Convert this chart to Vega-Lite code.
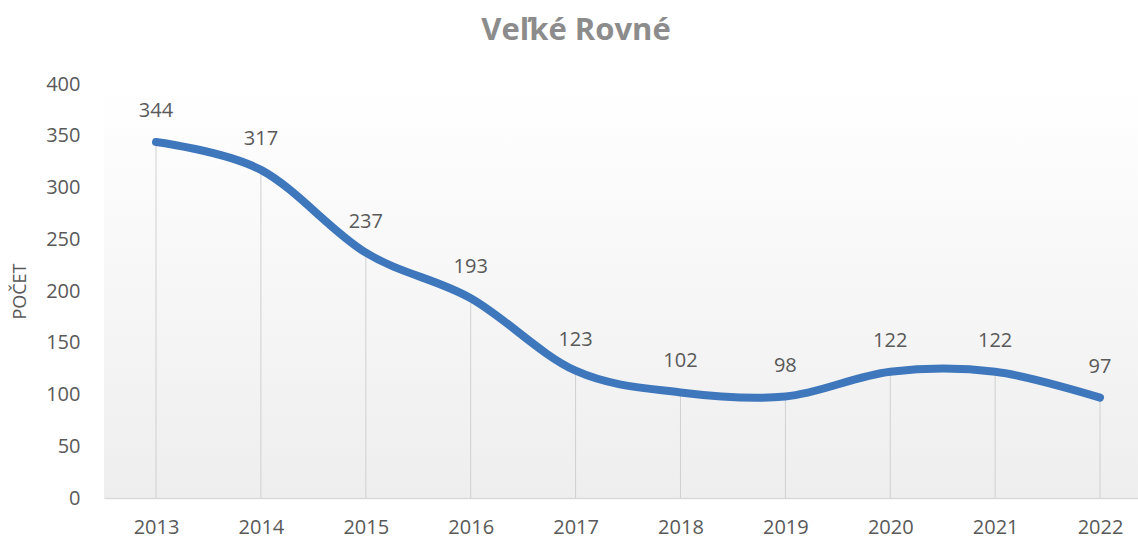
{
  "$schema": "https://vega.github.io/schema/vega-lite/v6.json",
  "width": 1034,
  "height": 414,
  "autosize": {"type": "none"},
  "padding": {"left": 104, "top": 84, "right": 0, "bottom": 40},
  "background": "#ffffff",
  "title": {
    "text": "Veľké Rovné",
    "font": "Open Sans",
    "fontSize": 31,
    "fontWeight": "bold",
    "color": "#8c8c8c",
    "anchor": "middle",
    "dx": -45,
    "offset": 27
  },
  "config": {
    "view": {
      "stroke": null,
      "fill": {
        "gradient": "linear",
        "x1": 0, "y1": 0, "x2": 0, "y2": 1,
        "stops": [
          {"offset": 0, "color": "#ffffff"},
          {"offset": 1, "color": "#eeeeee"}
        ]
      }
    }
  },
  "data": {
    "values": [
      {"year": 2013, "count": 344},
      {"year": 2014, "count": 317},
      {"year": 2015, "count": 237},
      {"year": 2016, "count": 193},
      {"year": 2017, "count": 123},
      {"year": 2018, "count": 102},
      {"year": 2019, "count": 98},
      {"year": 2020, "count": 122},
      {"year": 2021, "count": 122},
      {"year": 2022, "count": 97}
    ]
  },
  "encoding": {
    "x": {
      "field": "year",
      "type": "quantitative",
      "scale": {"domain": [2012.504, 2022.362], "nice": false, "zero": false},
      "axis": {
        "title": null,
        "values": [2013, 2014, 2015, 2016, 2017, 2018, 2019, 2020, 2021, 2022],
        "format": "d",
        "grid": false,
        "ticks": false,
        "domain": true,
        "domainColor": "#d9d9d9",
        "domainWidth": 1.5,
        "labelFont": "Open Sans",
        "labelFontSize": 20,
        "labelColor": "#595959",
        "labelPadding": 19
      }
    },
    "y": {
      "field": "count",
      "type": "quantitative",
      "scale": {"domain": [0, 400], "nice": false},
      "axis": {
        "title": "POČET",
        "titleFont": "Open Sans",
        "titleFontSize": 18,
        "titleFontWeight": "normal",
        "titleColor": "#595959",
        "titlePadding": 16,
        "values": [0, 50, 100, 150, 200, 250, 300, 350, 400],
        "grid": false,
        "ticks": false,
        "domain": false,
        "labelFont": "Open Sans",
        "labelFontSize": 20,
        "labelColor": "#595959",
        "labelPadding": 24
      }
    }
  },
  "layer": [
    {
      "mark": {"type": "rule", "color": "#d0d0d0", "strokeWidth": 1},
      "encoding": {"y2": {"datum": 0}}
    },
    {
      "mark": {
        "type": "line",
        "interpolate": "cardinal",
        "color": "#3f77bd",
        "strokeWidth": 8,
        "strokeCap": "round",
        "strokeJoin": "round"
      }
    },
    {
      "mark": {
        "type": "text",
        "font": "Open Sans",
        "fontSize": 20,
        "color": "#595959",
        "baseline": "alphabetic",
        "dy": -25
      },
      "encoding": {"text": {"field": "count", "type": "quantitative"}}
    }
  ]
}
